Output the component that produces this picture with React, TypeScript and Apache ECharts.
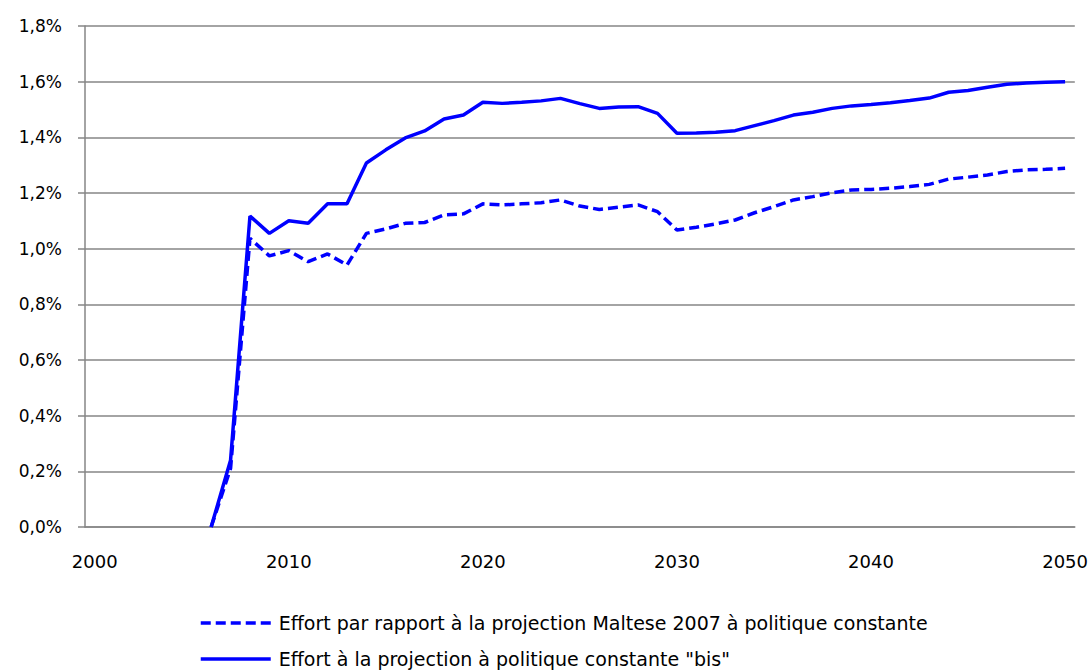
import React, { useEffect, useRef } from "react";
import * as echarts from "echarts";

const years: string[] = [];
for (let y = 2000; y <= 2050; y++) years.push(String(y));

const seriesNames = [
  "Effort par rapport à la projection Maltese 2007 à politique constante",
  'Effort à la projection à politique constante "bis"',
];

// 2000..2005 empty, values in %
const dashedValues: (number | null)[] = [
  null, null, null, null, null, null,
  0.0, 0.21, 1.037, 0.974, 0.993, 0.953, 0.981, 0.941, 1.055, 1.071,
  1.091, 1.094, 1.121, 1.125, 1.161, 1.157, 1.161, 1.165, 1.175, 1.153,
  1.141, 1.149, 1.157, 1.133, 1.067, 1.077, 1.089, 1.103, 1.129, 1.151,
  1.175, 1.187, 1.201, 1.211, 1.213, 1.217, 1.223, 1.231, 1.25, 1.257,
  1.265, 1.277, 1.283, 1.285, 1.289,
];

const solidValues: (number | null)[] = [
  null, null, null, null, null, null,
  0.0, 0.24, 1.117, 1.055, 1.1, 1.091, 1.161, 1.161, 1.308, 1.355,
  1.398, 1.423, 1.466, 1.48, 1.526, 1.522, 1.526, 1.531, 1.54, 1.521,
  1.504, 1.509, 1.51, 1.486, 1.415, 1.416, 1.418, 1.424, 1.442, 1.46,
  1.48, 1.49, 1.504, 1.513, 1.518, 1.524, 1.532, 1.541, 1.562, 1.568,
  1.58, 1.591, 1.595, 1.598, 1.6,
];

const yTicks = { min: 0, max: 1.8, interval: 0.2 };

export default function App() {
  const ref = useRef<HTMLDivElement>(null);
  useEffect(() => {
    document.body.style.margin = "0";
    if (!ref.current) return;
    const chart = echarts.init(ref.current, null, { renderer: "svg" });
    const font = "DejaVu Sans, sans-serif";
    const legendBase = {
      orient: "horizontal",
      left: 199,
      padding: 0,
      itemWidth: 70,
      itemHeight: 20,
      itemStyle: { opacity: 0 },
      lineStyle: { width: 3.5 },
      textStyle: {
        fontSize: 19,
        lineHeight: 20,
        color: "#000",
        fontFamily: font,
        padding: [0, 0, 0, 3],
      },
    };
    chart.setOption({
      animation: false,
      backgroundColor: "#ffffff",
      textStyle: { fontFamily: font },
      grid: { left: 85, right: 16, top: 26, bottom: 145, containLabel: false },
      xAxis: {
        type: "category",
        data: years,
        boundaryGap: true,
        axisLine: { show: true, lineStyle: { color: "#868686", width: 1.5 } },
        axisTick: { show: false },
        axisLabel: {
          interval: 9,
          margin: 25,
          color: "#000",
          fontSize: 18,
          fontFamily: font,
        },
        splitLine: { show: false },
      },
      yAxis: {
        type: "value",
        min: yTicks.min,
        max: yTicks.max,
        interval: yTicks.interval,
        axisLine: { show: true, lineStyle: { color: "#868686", width: 1.5 } },
        axisTick: { show: true, length: 7, lineStyle: { color: "#868686", width: 1.5 } },
        axisLabel: {
          margin: 23,
          color: "#000",
          fontSize: 17,
          fontFamily: font,
          formatter: (v: number) => v.toFixed(1).replace(".", ",") + "%",
        },
        splitLine: { show: true, lineStyle: { color: "#868686", width: 1.5 } },
      },
      legend: [
        { ...legendBase, top: 613, data: [seriesNames[0]] },
        { ...legendBase, top: 649, data: [seriesNames[1]] },
      ],
      series: [
        {
          name: seriesNames[0],
          type: "line",
          data: dashedValues,
          symbol: "none",
          lineStyle: { color: "#0000FF", width: 3.5, type: [10, 5] },
          itemStyle: { color: "#0000FF" },
          z: 3,
        },
        {
          name: seriesNames[1],
          type: "line",
          data: solidValues,
          symbol: "none",
          lineStyle: { color: "#0000FF", width: 3.5, type: "solid" },
          itemStyle: { color: "#0000FF" },
          z: 2,
        },
      ],
    });
    return () => chart.dispose();
  }, []);
  return <div ref={ref} style={{ width: 1091, height: 672 }} />;
}
